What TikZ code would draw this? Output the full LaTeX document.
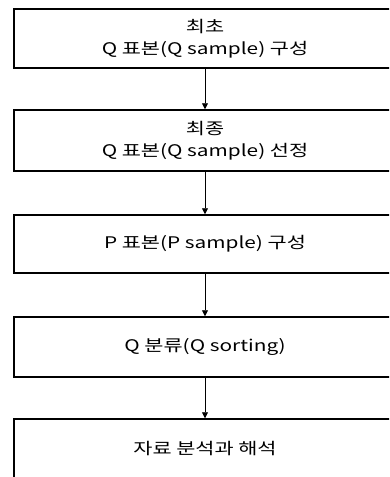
\documentclass[tikz,border=0pt]{standalone}
\usepackage{fontspec}
\setmainfont{Noto Sans CJK KR}[FakeStretch=1.3]
\usetikzlibrary{arrows.meta}
\tikzset{
  stepbox/.style = {draw, line width = 1.5pt, minimum width = 382pt, inner sep = 0pt,
    align = center, font = \fontsize{16pt}{22pt}\selectfont},
  flow/.style = {line width = .8pt, -{Triangle[width=6pt, length=6pt]}}
}

\begin{document}
\begin{tikzpicture}[x = 1pt, y = 1pt]
        \clip (0, 0) rectangle (389, -477);
        \fill[white] (0, 0) rectangle (389, -477);
        \node[stepbox, minimum height = 59pt] (first) at (205, -38.5) {최초\\Q 표본(Q sample) 구성};
        \node[stepbox, minimum height = 61pt] (final) at (205, -140.5) {최종\\Q 표본(Q sample) 선정};
        \node[stepbox, minimum height = 58pt] (psample) at (205, -244) {P 표본(P sample) 구성};
        \node[stepbox, minimum height = 60pt] (sorting) at (205, -347) {Q 분류(Q sorting)};
        \node[stepbox, minimum height = 60pt] (analysis) at (205, -449) {자료 분석과 해석};
        % connectors
        \draw[flow] (first) -- (final);
        \draw[flow] (final) -- (psample);
        \draw[flow] (psample) -- (sorting);
        \draw[flow] (sorting) -- (analysis);
\end{tikzpicture}
\end{document}
